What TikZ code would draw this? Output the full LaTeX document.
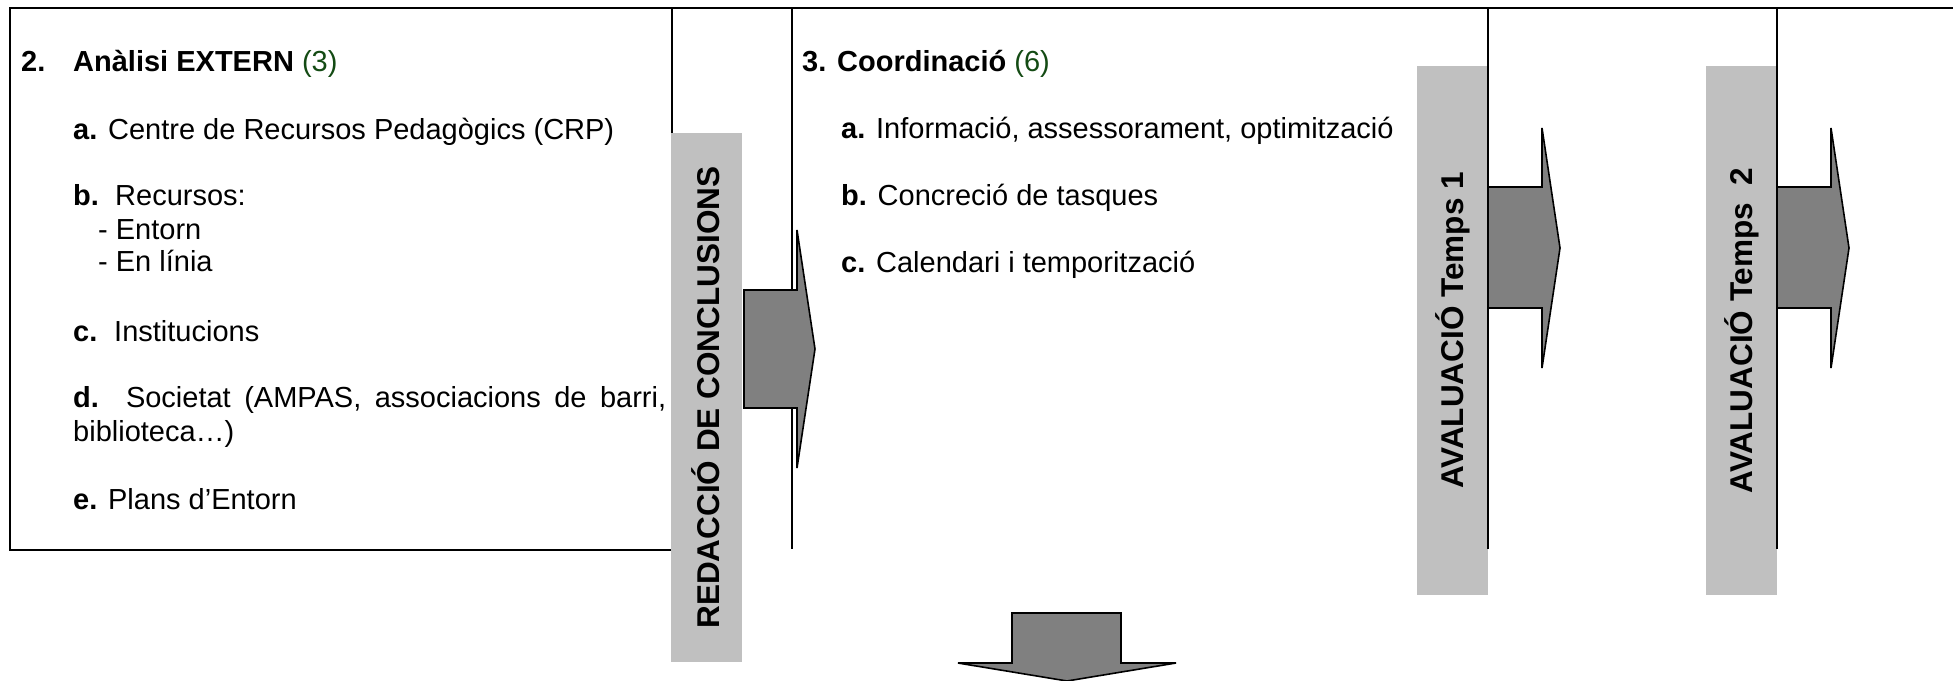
\documentclass[tikz,border=0pt]{standalone}
\usepackage{fontspec}
\setmainfont{Liberation Sans}
\definecolor{vertfosc}{RGB}{20,75,20}
\definecolor{grisclar}{RGB}{192,192,192}
\definecolor{grisfletxa}{RGB}{128,128,128}
\begin{document}
\begin{tikzpicture}[x=1pt,y=-1pt,
  txt/.style={anchor=base west,inner sep=0pt,font=\fontsize{29}{33}\selectfont},
  barra/.style={fill=grisclar,rotate=90,minimum width=529pt,minimum height=71pt,inner sep=0pt,font=\fontsize{31.5}{36}\selectfont\bfseries},
  fletxa/.style={draw=black,fill=grisfletxa,line width=1.6pt,line join=miter}]
\useasboundingbox (0,0) rectangle (1953,680);
\draw [line width=2pt] (10,8) rectangle (672,550);
\draw [line width=2pt] (672,8)--(1953,8);
\node [barra] (redac) at (706,397.5) {REDACCIÓ DE CONCLUSIONS};
\node [barra] (aval1) at (1452.5,330.5) {AVALUACIÓ Temps 1};
\node [barra] (aval2) at (1741.5,330.5) {AVALUACIÓ Temps\ \ 2};
\foreach \x in {792,1488,1777} {\draw [line width=2pt] (\x,8)--(\x,549);}
\draw [fletxa] (744,290)--(797,290)--(797,230)--(815,349)--(797,468)--(797,408)--(744,408)--cycle;
\foreach \x in {1488,1777} {\draw [fletxa] (\x,187)--({\x+54},187)--({\x+54},128)--({\x+72},248)--({\x+54},368)--({\x+54},308)--(\x,308)--cycle;}
\draw [fletxa] (1012,613)--(1121,613)--(1121,663)--(1176,663)--(1067,681)--(958,663)--(1012,663)--cycle;
\node [txt] (tit2) at (21,71) {\makebox[52pt][l]{\bfseries 2.}\textbf{Anàlisi EXTERN} {\color{vertfosc}(3)}};
\node [txt] (a2) at (73,139) {\textbf{a.} Centre de Recursos Pedagògics (CRP)};
\node [txt] (b2) at (73,205) {\makebox[42pt][l]{\bfseries b.}Recursos:};
\node [txt] (b2i) at (98,239) {- Entorn};
\node [txt] (b2ii) at (98,271) {- En línia};
\node [txt] (c2) at (73,341) {\makebox[41pt][l]{\bfseries c.}Institucions};
\node [txt] (d2) at (73,407) {\makebox[593pt][s]{\textbf{d.} Societat (AMPAS, associacions de barri,}};
\node [txt] (d2b) at (73,441) {biblioteca…)};
\node [txt] (e2) at (73,509) {\textbf{e.} Plans d’Entorn};
\node [txt] (tit3) at (802,71) {\textbf{3. Coordinació} {\color{vertfosc}(6)}};
\node [txt] (a3) at (841,138) {\textbf{a.} Informació, assessorament, optimització};
\node [txt] (b3) at (841,205) {\textbf{b.} Concreció de tasques};
\node [txt] (c3) at (841,272) {\textbf{c.} Calendari i temporització};
\end{tikzpicture}
\end{document}
